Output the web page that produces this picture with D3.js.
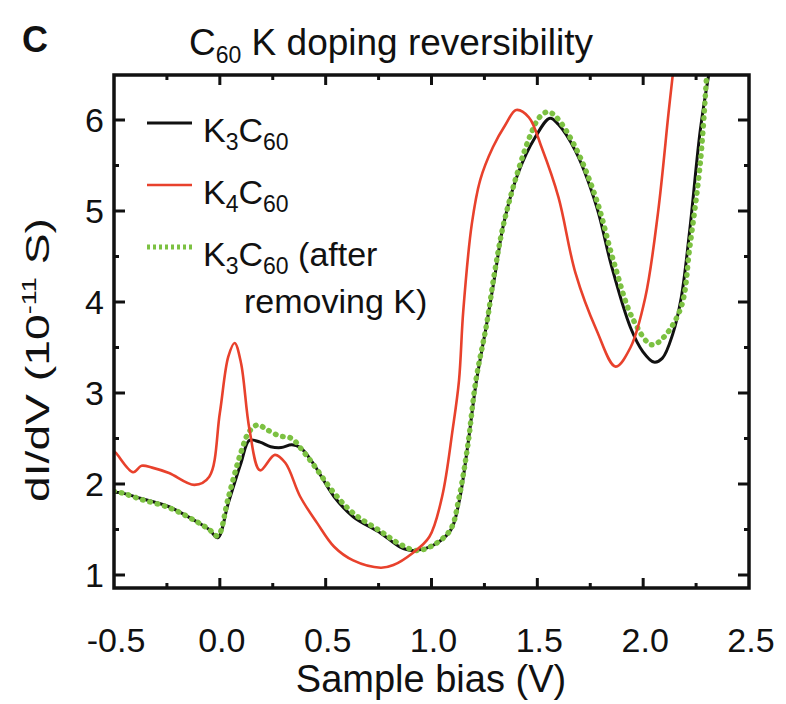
<!DOCTYPE html>
<html><head><meta charset="utf-8">
<script src="https://cdn.jsdelivr.net/npm/d3@7"></script>
<style>body{margin:0;background:#fff}svg{display:block}text{font-family:"Liberation Sans",Arial,sans-serif;fill:#111}</style>
</head><body>
<svg id="c" width="786" height="704"></svg>
<script>
const xTicks = [-0.5, 0.0, 0.5, 1.0, 1.5, 2.0, 2.5];
const xTickLabels = ["-0.5", "0.0", "0.5", "1.0", "1.5", "2.0", "2.5"];
const yTicks = [1, 2, 3, 4, 5, 6];

const k3Bias = [-0.50,-0.46,-0.37,-0.24,-0.12,-0.05,-0.01,0.04,0.10,0.14,0.19,0.24,0.29,0.34,0.38,0.44,0.54,0.63,0.76,0.85,0.91,1.01,1.09,1.13,1.17,1.21,1.26,1.30,1.34,1.41,1.49,1.56,1.60,1.68,1.78,1.85,1.94,2.00,2.05,2.09,2.14,2.18,2.22,2.27,2.31];
const k3Val  = [1.91,1.90,1.84,1.75,1.60,1.50,1.41,1.79,2.23,2.48,2.46,2.41,2.40,2.43,2.40,2.23,1.86,1.64,1.46,1.31,1.27,1.33,1.49,1.80,2.40,3.10,3.75,4.30,4.85,5.42,5.81,6.02,5.95,5.66,5.05,4.40,3.72,3.45,3.34,3.38,3.65,4.05,4.79,5.89,6.50];

const k4Bias = [-0.50,-0.49,-0.41,-0.37,-0.32,-0.24,-0.12,-0.05,0.00,0.04,0.07,0.10,0.14,0.19,0.26,0.31,0.38,0.46,0.54,0.63,0.76,0.82,0.91,0.99,1.05,1.10,1.13,1.15,1.19,1.23,1.29,1.35,1.40,1.46,1.52,1.60,1.68,1.78,1.87,1.94,2.01,2.07,2.12,2.14];
const k4Val  = [2.36,2.34,2.13,2.20,2.18,2.12,1.99,2.08,2.78,3.40,3.55,3.33,2.60,2.15,2.32,2.23,1.86,1.57,1.31,1.16,1.08,1.11,1.24,1.42,1.86,2.60,3.14,3.90,4.85,5.34,5.70,5.95,6.11,6.03,5.70,5.15,4.32,3.69,3.29,3.50,4.05,4.98,6.08,6.50];

const k3rBias = [-0.50,-0.46,-0.37,-0.24,-0.12,-0.05,-0.01,0.04,0.10,0.14,0.18,0.22,0.28,0.34,0.39,0.44,0.54,0.63,0.76,0.85,0.93,1.01,1.09,1.13,1.17,1.21,1.26,1.30,1.34,1.41,1.47,1.51,1.55,1.59,1.68,1.78,1.86,1.95,2.04,2.10,2.18,2.22,2.27,2.30];
const k3rVal  = [1.92,1.90,1.83,1.74,1.60,1.50,1.43,1.85,2.35,2.58,2.65,2.60,2.53,2.50,2.37,2.22,1.90,1.68,1.48,1.34,1.27,1.33,1.50,1.85,2.40,3.14,3.75,4.35,4.85,5.45,5.85,6.03,6.09,6.03,5.70,5.12,4.45,3.82,3.53,3.62,3.95,4.60,5.53,6.50];

const series = [
  {name:"K3C60", bias:k3Bias, val:k3Val, color:"#111111", width:3, dash:null, cap:"butt"},
  {name:"K3C60r", bias:k3rBias, val:k3rVal, color:"#7cc142", width:5.5, dash:"0.5 7", cap:"round"},
  {name:"K4C60", bias:k4Bias, val:k4Val, color:"#e8412c", width:2.6, dash:null, cap:"butt"}
];

const L = 114, R = 749, T = 75, B = 588;
const x = d3.scaleLinear().domain([-0.5, 2.5]).range([L, R]);
const y = d3.scaleLinear().domain([1, 6]).range([575, 120]);

const svg = d3.select("#c");
svg.append("defs").append("clipPath").attr("id","clip")
  .append("rect").attr("x",L).attr("y",T).attr("width",R-L).attr("height",B-T);

const g = svg.append("g").attr("clip-path","url(#clip)");
const line = d3.line().x(d=>x(d[0])).y(d=>y(d[1])).curve(d3.curveCatmullRom.alpha(0.5));
series.forEach(s=>{
  const pts = s.bias.map((b,i)=>[b, s.val[i]]);
  g.append("path").attr("d", line(pts)).attr("fill","none")
    .attr("stroke", s.color).attr("stroke-width", s.width)
    .attr("stroke-linecap", s.cap).attr("stroke-linejoin","round")
    .attr("stroke-dasharray", s.dash);
});

// axes with inward ticks
const axG = svg.append("g");
const xMinor = d3.range(-0.25, 2.5, 0.5);
const yMinor = d3.range(1.5, 6.5, 0.5).filter(v=>v%1!==0);
function tick(x1,y1,x2,y2){axG.append("line").attr("x1",x1).attr("y1",y1).attr("x2",x2).attr("y2",y2).attr("stroke","#111").attr("stroke-width",3);}
xTicks.forEach(v=>{ if (v>-0.5 && v<2.5){ tick(x(v),B,x(v),B-10); tick(x(v),T,x(v),T+10);} });
xMinor.forEach(v=>{ tick(x(v),B,x(v),B-5); tick(x(v),T,x(v),T+5); });
yTicks.forEach(v=>{ tick(L,y(v),L+11,y(v)); tick(R,y(v),R-11,y(v)); });
yMinor.forEach(v=>{ if(y(v)>T){ tick(L,y(v),L+5,y(v)); tick(R,y(v),R-5,y(v)); }});
axG.append("rect").attr("x",L).attr("y",T).attr("width",R-L).attr("height",B-T)
  .attr("fill","none").attr("stroke","#111").attr("stroke-width",3.5);

// tick labels
xTicks.forEach((v,i)=>{
  svg.append("text").attr("x",x(v)+2).attr("y",652).attr("text-anchor","middle")
    .attr("font-size",34).text(xTickLabels[i]);
});
yTicks.forEach(v=>{
  svg.append("text").attr("x",104).attr("y",y(v)+12).attr("text-anchor","end")
    .attr("font-size",34).text(v);
});

// axis titles
svg.append("text").attr("x",431).attr("y",692).attr("text-anchor","middle")
  .attr("font-size",38).text("Sample bias (V)");
const yl = svg.append("text").attr("transform","translate(49,360) rotate(-90) scale(1.36,1)")
  .attr("text-anchor","middle").attr("font-size",34);
yl.append("tspan").text("dI/dV (10");
yl.append("tspan").attr("font-size",20).attr("dy",-13).text("-11");
yl.append("tspan").attr("dy",13).text(" S)");

// title
const tt = svg.append("text").attr("x",391).attr("y",55).attr("text-anchor","middle").attr("font-size",37);
tt.append("tspan").text("C");
tt.append("tspan").attr("font-size",23).attr("dy",8).text("60");
tt.append("tspan").attr("dy",-8).text(" K doping reversibility");
svg.append("text").attr("x",22).attr("y",52).attr("font-size",36).attr("font-weight","bold").text("C");

// legend
const leg = [
  {y:123, color:"#111111", dash:null, width:3, sub:"3", tail:""},
  {y:185, color:"#e8412c", dash:null, width:2.6, sub:"4", tail:""},
  {y:247, color:"#7cc142", dash:"3 3", width:5, sub:"3", tail:" (after"}
];
leg.forEach(d=>{
  svg.append("line").attr("x1",147).attr("x2",192).attr("y1",d.y).attr("y2",d.y)
    .attr("stroke",d.color).attr("stroke-width",d.width).attr("stroke-dasharray",d.dash);
  const t = svg.append("text").attr("x",203).attr("y",d.y+19).attr("font-size",34);
  t.append("tspan").text("K");
  t.append("tspan").attr("font-size",23).attr("dy",8).text(d.sub);
  t.append("tspan").attr("dy",-8).text("C");
  t.append("tspan").attr("font-size",23).attr("dy",8).text("60");
  t.append("tspan").attr("dy",-8).text(d.tail);
});
svg.append("text").attr("x",244).attr("y",313).attr("font-size",34).text("removing K)");
</script>
</body></html>
